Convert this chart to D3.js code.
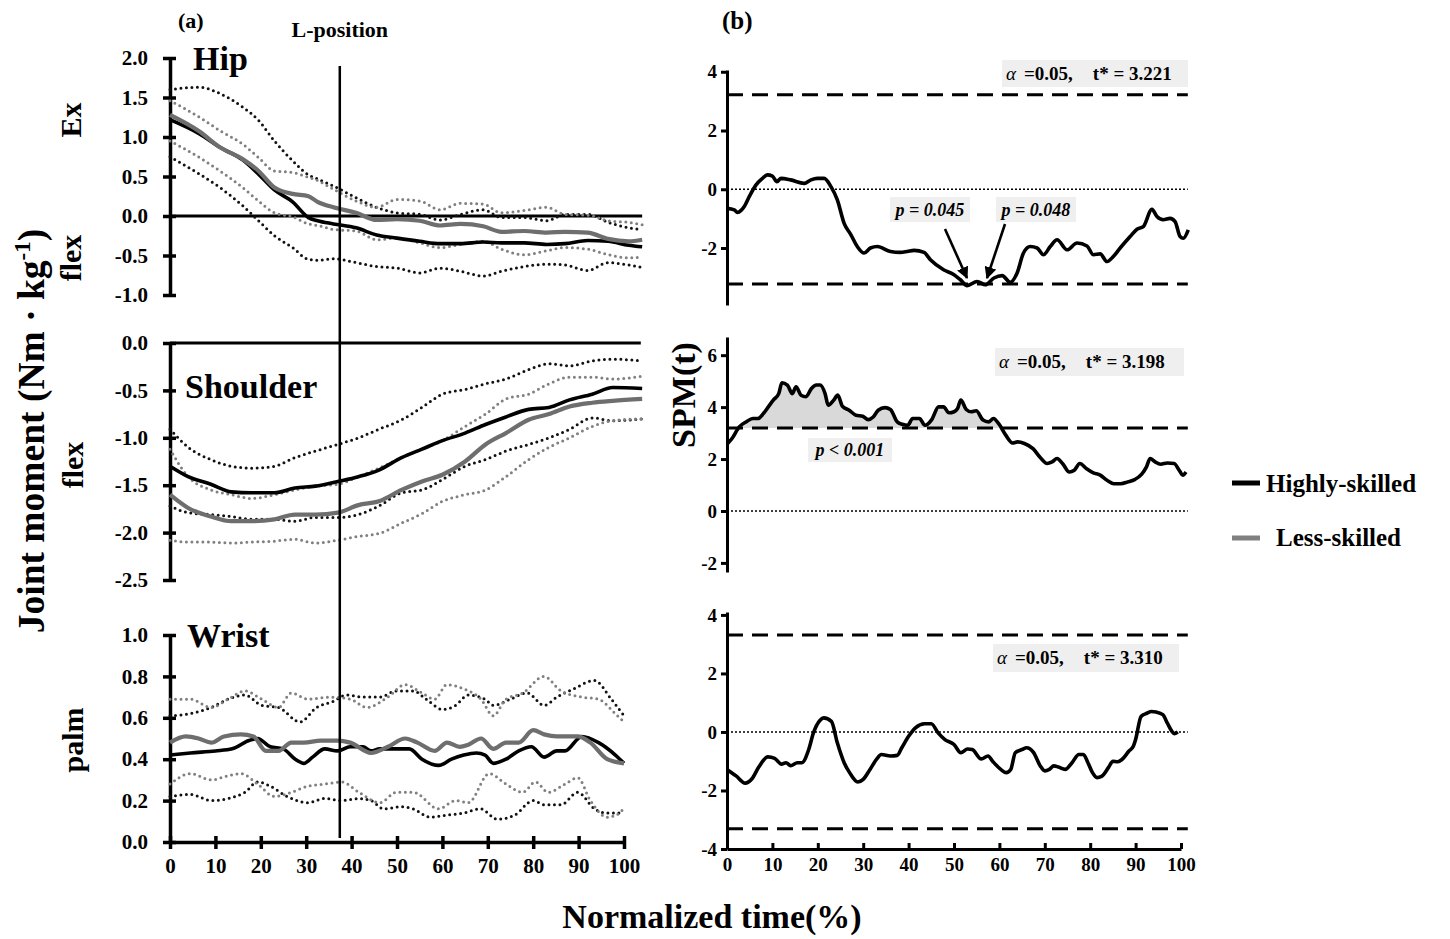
<!DOCTYPE html>
<html><head><meta charset="utf-8">
<script src="https://cdn.jsdelivr.net/npm/d3@7"></script>
<style>
body{margin:0;background:#fff;}
svg text{font-family:"Liberation Serif","Times New Roman",serif;font-weight:bold;fill:#000;}
</style></head><body>
<svg id="c" width="1450" height="939"></svg>
<script>
// ---------------- DATA ----------------
const timeTicks = [0,10,20,30,40,50,60,70,80,90,100];
const hipTicks = [-1,-0.5,0,0.5,1,1.5,2];
const shoulderTicks = [-2.5,-2,-1.5,-1,-0.5,0];
const wristTicks = [0,0.2,0.4,0.6,0.8,1];
const lPosition = 37.4;

const hipT = [0,6.5,11,16,19.5,23,27,30.5,32.5,36,41,45.5,50,55,59.5,64,69,73,78,83,87,92,96.5,101,104];
const hipHighMean  = [1.22,1.04,0.87,0.71,0.53,0.33,0.18,-0.02,-0.06,-0.1,-0.15,-0.24,-0.28,-0.32,-0.35,-0.35,-0.33,-0.34,-0.34,-0.36,-0.35,-0.31,-0.32,-0.37,-0.39];
const hipLessMean  = [1.28,1.07,0.87,0.72,0.57,0.36,0.28,0.25,0.18,0.11,0.04,-0.05,-0.04,-0.06,-0.12,-0.1,-0.13,-0.2,-0.19,-0.21,-0.2,-0.21,-0.29,-0.32,-0.3];
const hipHighUpper = [1.6,1.63,1.55,1.38,1.21,0.95,0.7,0.52,0.47,0.38,0.23,0.11,0.04,0.02,-0.05,0.02,0.08,-0.02,-0.02,-0.06,0.02,0.02,-0.08,-0.15,-0.17];
const hipHighLower = [0.75,0.53,0.36,0.13,-0.06,-0.25,-0.4,-0.55,-0.56,-0.54,-0.59,-0.64,-0.66,-0.72,-0.66,-0.7,-0.76,-0.7,-0.64,-0.61,-0.62,-0.69,-0.59,-0.62,-0.65];
const hipLessUpper = [1.46,1.25,1.08,0.91,0.74,0.57,0.55,0.49,0.45,0.34,0.19,0.11,0.21,0.19,0.08,0.16,0.15,0.04,0.07,0.11,0.02,0.01,-0.06,-0.08,-0.11];
const hipLessLower = [0.95,0.74,0.57,0.36,0.19,0.04,-0.01,-0.1,-0.12,-0.17,-0.19,-0.3,-0.28,-0.34,-0.4,-0.36,-0.32,-0.42,-0.49,-0.44,-0.4,-0.42,-0.49,-0.53,-0.52];

const shT = [0,4,9,13.5,18,23,27.5,32,37,41.5,46,51,55.5,60,65,69.5,74,79,83.5,88,93,97.5,104];
const shHighMean  = [-1.3,-1.41,-1.49,-1.57,-1.58,-1.58,-1.53,-1.51,-1.46,-1.41,-1.34,-1.21,-1.12,-1.03,-0.95,-0.86,-0.78,-0.7,-0.68,-0.6,-0.54,-0.47,-0.48];
const shLessMean  = [-1.6,-1.74,-1.83,-1.88,-1.88,-1.86,-1.81,-1.81,-1.79,-1.71,-1.67,-1.55,-1.46,-1.39,-1.25,-1.07,-0.95,-0.81,-0.75,-0.67,-0.63,-0.61,-0.59];
const shHighUpper = [-0.91,-1.1,-1.23,-1.3,-1.32,-1.3,-1.21,-1.14,-1.07,-1.0,-0.91,-0.81,-0.68,-0.54,-0.49,-0.43,-0.38,-0.28,-0.22,-0.24,-0.19,-0.17,-0.19];
const shHighLower = [-1.72,-1.79,-1.81,-1.83,-1.86,-1.86,-1.88,-1.84,-1.84,-1.81,-1.72,-1.58,-1.55,-1.44,-1.3,-1.23,-1.14,-1.07,-1.0,-0.91,-0.79,-0.82,-0.8];
const shLessUpper = [-1.12,-1.41,-1.55,-1.6,-1.64,-1.6,-1.55,-1.51,-1.49,-1.41,-1.32,-1.21,-1.12,-1.03,-0.88,-0.75,-0.59,-0.54,-0.43,-0.36,-0.36,-0.38,-0.35];
const shLessLower = [-2.08,-2.1,-2.1,-2.11,-2.1,-2.09,-2.07,-2.11,-2.08,-2.04,-2.01,-1.9,-1.8,-1.67,-1.6,-1.55,-1.41,-1.23,-1.1,-1.0,-0.88,-0.82,-0.8];

const wrHighMean = [[0,0.42],[4.5,0.43],[10,0.44],[13.7,0.45],[17.4,0.49],[19.3,0.5],[22.1,0.46],[24.9,0.45],[27.6,0.4],[29.5,0.38],[31.4,0.41],[34.1,0.45],[36.9,0.44],[39.7,0.46],[42.5,0.46],[44.3,0.44],[46.2,0.45],[49.9,0.45],[52.7,0.45],[55.5,0.4],[59.2,0.37],[62,0.4],[64.7,0.42],[67.5,0.43],[69.4,0.42],[71.2,0.38],[74,0.4],[76.8,0.44],[79.6,0.46],[82.4,0.41],[85.2,0.44],[87,0.44],[90.7,0.51],[94.4,0.48],[98.1,0.42],[100,0.38]];
const wrLessMean = [[0,0.48],[3.5,0.51],[6.3,0.5],[9.1,0.48],[11.9,0.51],[15.6,0.52],[18.4,0.51],[21.1,0.44],[23.9,0.44],[26.7,0.48],[29.5,0.48],[33.2,0.49],[36.9,0.49],[39.7,0.48],[44.3,0.43],[48,0.46],[51.8,0.5],[54.5,0.48],[58.3,0.44],[61,0.48],[63.8,0.46],[65.7,0.47],[68.5,0.5],[71.2,0.45],[74,0.48],[76.8,0.48],[80,0.54],[82.4,0.52],[85.2,0.51],[89.8,0.51],[92.6,0.48],[96.3,0.4],[100,0.38]];
const wrHighUpper = [[0,0.61],[4.5,0.62],[9.1,0.65],[12.8,0.69],[16.5,0.71],[20.2,0.66],[23.9,0.65],[28.6,0.58],[32.3,0.65],[36,0.68],[38.8,0.71],[42.5,0.7],[46.2,0.7],[49.9,0.73],[53.6,0.73],[56.4,0.69],[60.1,0.64],[62.9,0.66],[65.7,0.71],[69.4,0.69],[71.2,0.66],[75,0.69],[78.7,0.72],[82.4,0.66],[85.2,0.7],[88.9,0.74],[93.5,0.78],[97.2,0.69],[100,0.61]];
const wrLessUpper = [[0,0.69],[4.5,0.69],[9.1,0.65],[12.8,0.69],[16.5,0.73],[20.2,0.69],[23.9,0.65],[26.7,0.72],[30.4,0.69],[35.1,0.7],[39.7,0.69],[43.4,0.65],[48,0.7],[51.8,0.76],[55.5,0.72],[58.3,0.69],[61,0.76],[64.7,0.74],[68.5,0.69],[71.2,0.61],[74,0.69],[77.7,0.72],[82.4,0.8],[86.1,0.73],[90.7,0.7],[94.4,0.69],[98.1,0.62],[100,0.58]];
const wrHighLower = [[0,0.22],[4.5,0.23],[9.1,0.2],[12.8,0.21],[16.5,0.24],[19.3,0.29],[22.1,0.27],[25.8,0.22],[30.4,0.19],[34.1,0.21],[37.8,0.2],[41.6,0.21],[44.3,0.2],[47.1,0.16],[50.8,0.17],[53.6,0.16],[57.3,0.12],[61,0.13],[64.7,0.14],[68.4,0.16],[72.1,0.11],[75.9,0.13],[80,0.2],[82.4,0.18],[86.1,0.18],[89.8,0.24],[93.5,0.16],[96.3,0.14],[100,0.14]];
const wrLessLower = [[0,0.28],[4.5,0.33],[9.1,0.3],[12.8,0.32],[15.6,0.33],[19.3,0.28],[23,0.22],[26.7,0.24],[30.4,0.27],[34.1,0.28],[37.8,0.29],[41.6,0.24],[46.2,0.19],[49.9,0.24],[53.6,0.24],[59.2,0.16],[62.9,0.2],[65.7,0.19],[70.3,0.33],[74,0.28],[77.7,0.24],[80.5,0.29],[83.3,0.24],[87,0.28],[89.8,0.31],[92.6,0.2],[96.3,0.12],[99.1,0.14],[100,0.17]];

const spmHip = [[0,-0.65],[1.6,-0.7],[2.3,-0.79],[3.1,-0.72],[3.8,-0.59],[4.9,-0.25],[6.4,0.15],[7.8,0.37],[8.9,0.49],[10,0.45],[11,0.26],[11.9,0.37],[14,0.32],[17,0.2],[18.5,0.32],[19.9,0.37],[21.4,0.37],[22.9,0.09],[24.3,-0.36],[25.8,-1.16],[27.3,-1.55],[28.7,-1.95],[30.2,-2.17],[31.6,-2.0],[33.1,-1.95],[36,-2.12],[38.2,-2.15],[39.7,-2.12],[41.2,-2.08],[43.4,-2.15],[44.8,-2.4],[47.7,-2.74],[50,-2.91],[51.4,-3.08],[52.9,-3.28],[55.1,-3.14],[56.9,-3.25],[58.8,-3.02],[60.6,-2.94],[62.4,-3.17],[63.9,-2.85],[65.3,-2.17],[66.8,-1.95],[68.3,-2.0],[69.7,-2.23],[71.2,-1.95],[72.7,-1.72],[74.9,-2.06],[77.1,-1.83],[79.3,-1.93],[80.7,-2.23],[82.2,-2.2],[83.7,-2.46],[85.1,-2.29],[86.6,-2.0],[88.8,-1.61],[90.3,-1.36],[91.7,-1.27],[93.6,-0.68],[94.7,-0.93],[96.1,-1.04],[97.6,-0.99],[98.7,-1.1],[99.8,-1.61],[100.5,-1.67],[101.6,-1.38]];
const spmShoulder = [[0,2.57],[1.1,2.79],[2.7,3.24],[4.2,3.43],[5.7,3.56],[6.8,3.56],[8,3.75],[9.1,4.01],[10.2,4.27],[11.4,4.52],[12.1,4.94],[13.3,4.85],[14.4,4.52],[15.2,4.78],[16.3,4.46],[17.4,4.4],[18.6,4.72],[19.7,4.85],[20.5,4.85],[21.6,4.52],[22.3,4.07],[23.5,4.27],[24.4,4.46],[25.4,4.04],[26.9,3.88],[28.4,3.69],[29.9,3.65],[31.1,3.52],[32.2,3.62],[33.3,3.88],[34.8,3.98],[36,3.91],[37.5,3.43],[38.6,3.34],[39.8,3.3],[40.9,3.56],[42.4,3.56],[43.6,3.3],[45.1,3.52],[46.6,4.01],[47.7,4.01],[48.9,3.78],[50,3.82],[50.8,3.95],[51.5,4.27],[52.7,3.91],[53.8,3.82],[54.9,3.86],[56.4,3.5],[57.6,3.43],[58.7,3.56],[59.8,3.37],[61.4,2.92],[62.9,2.62],[64,2.66],[65.5,2.6],[67.4,2.4],[68.9,2.08],[70.5,1.83],[71.6,1.89],[72.7,2.02],[73.9,1.83],[75.4,1.5],[76.5,1.57],[77.7,1.83],[79.2,1.63],[80.7,1.47],[82.2,1.38],[83.7,1.18],[85.2,1.05],[86.7,1.05],[88.3,1.12],[89.8,1.21],[91.3,1.41],[92.4,1.7],[93.2,2.02],[94.3,1.89],[95.5,1.8],[97,1.85],[98.5,1.83],[99.6,1.57],[100.4,1.38],[101.1,1.5]];
const spmWrist = [[0,-1.28],[2,-1.5],[4,-1.75],[5.5,-1.6],[7,-1.2],[9,-0.85],[10.5,-0.9],[12,-1.1],[13,-1.05],[14,-1.15],[15.5,-1.05],[16.5,-1.05],[18,-0.6],[19,-0.05],[20.5,0.4],[21.3,0.48],[23,0.36],[24.3,-0.37],[25.8,-1.05],[27,-1.39],[28.8,-1.71],[30,-1.62],[31.5,-1.28],[33,-0.92],[34,-0.77],[36,-0.82],[37.5,-0.8],[38.5,-0.54],[40,-0.15],[41.5,0.14],[43.5,0.28],[45,0.28],[46.5,-0.03],[48,-0.26],[50,-0.43],[51.5,-0.71],[53,-0.58],[54,-0.6],[56,-0.92],[57.5,-0.82],[58.5,-1.0],[60.3,-1.28],[61.5,-1.39],[62.5,-1.28],[63.5,-0.71],[65,-0.6],[66,-0.54],[67.5,-0.7],[69,-1.16],[70,-1.33],[71,-1.28],[72,-1.16],[73,-1.2],[74.5,-1.28],[76,-1.05],[77.5,-0.77],[78.5,-0.77],[79.5,-1.05],[80.5,-1.39],[81.5,-1.56],[82.5,-1.52],[84,-1.22],[85,-1.0],[86,-1.02],[87,-0.94],[88.5,-0.66],[89.5,-0.49],[90,-0.26],[91.2,0.53],[92.5,0.64],[93.5,0.7],[94.5,0.68],[96,0.59],[97,0.3],[98,0.02],[98.5,-0.06],[99.3,0]];

const thresholds = [3.221, 3.198, 3.310];
const thresholdLabels = ["3.221","3.198","3.310"];
const spmTicksHip = [-2,0,2,4];
const spmTicksShoulder = [-2,0,2,4,6];
const spmTicksWrist = [-4,-2,0,2,4];
const clusterEnd = 61;
const legendNames = ["Highly-skilled","Less-skilled"];

// ---------------- DRAW ----------------
const svg = d3.select("#c");
const BLACK = "#000", GRAYM = "#6e6e6e", GRAYD = "#808080";

const xL = d3.scaleLinear().domain([0,100]).range([170,624]);
const xR = d3.scaleLinear().domain([0,100]).range([727,1181]);
const yHip = d3.scaleLinear().domain([-1,2]).range([295,58]);
const ySh = d3.scaleLinear().domain([-2.5,0]).range([580,343]);
const yWr = d3.scaleLinear().domain([0,1]).range([842,635]);

const zip = (t, v) => t.map((d,i)=>[d, v[i]]);

function styleAxis(g, fs){
  g.selectAll(".domain").attr("stroke","#000").attr("stroke-width",3.5);
  g.selectAll(".tick line").attr("stroke","#000").attr("stroke-width",3.5);
  g.selectAll(".tick text").style("font-size",fs+"px").attr("fill","#000");
}

function leftAxis(y, ticks){
  const g = svg.append("g").attr("transform","translate(170,0)");
  g.call(d3.axisLeft(y).tickValues(ticks).tickFormat(d=>d.toFixed(1)).tickSize(7).tickSizeOuter(0).tickPadding(15));
  const g2 = g.append("g").call(d3.axisRight(y).tickValues(ticks).tickFormat("").tickSize(6).tickSizeOuter(0));
  g2.select(".domain").remove();
  styleAxis(g, 21);
}

function drawSeries(x, y, data, kind){
  const line = d3.line().x(d=>x(d[0])).y(d=>y(d[1])).curve(d3.curveMonotoneX);
  const p = svg.append("path").attr("d", line(data)).attr("fill","none");
  if (kind==="hm") p.attr("stroke",BLACK).attr("stroke-width",3.6).attr("stroke-linejoin","round");
  if (kind==="lm") p.attr("stroke",GRAYM).attr("stroke-width",4.2).attr("stroke-linejoin","round");
  if (kind==="hd") p.attr("stroke","#111").attr("stroke-width",3).attr("stroke-dasharray","0,5.5").attr("stroke-linecap","round");
  if (kind==="ld") p.attr("stroke",GRAYD).attr("stroke-width",3).attr("stroke-dasharray","0,5.5").attr("stroke-linecap","round");
}

// ---- Hip ----
leftAxis(yHip, hipTicks);
svg.append("line").attr("x1",xL(0)).attr("x2",xL(104)).attr("y1",yHip(0)).attr("y2",yHip(0)).attr("stroke","#000").attr("stroke-width",3);
drawSeries(xL,yHip,zip(hipT,hipHighUpper),"hd");
drawSeries(xL,yHip,zip(hipT,hipHighLower),"hd");
drawSeries(xL,yHip,zip(hipT,hipLessUpper),"ld");
drawSeries(xL,yHip,zip(hipT,hipLessLower),"ld");
drawSeries(xL,yHip,zip(hipT,hipHighMean),"hm");
drawSeries(xL,yHip,zip(hipT,hipLessMean),"lm");

// ---- Shoulder ----
leftAxis(ySh, shoulderTicks);
svg.append("line").attr("x1",xL(0)).attr("x2",xL(103.7)).attr("y1",ySh(0)).attr("y2",ySh(0)).attr("stroke","#000").attr("stroke-width",3);
drawSeries(xL,ySh,zip(shT,shHighUpper),"hd");
drawSeries(xL,ySh,zip(shT,shHighLower),"hd");
drawSeries(xL,ySh,zip(shT,shLessUpper),"ld");
drawSeries(xL,ySh,zip(shT,shLessLower),"ld");
drawSeries(xL,ySh,zip(shT,shHighMean),"hm");
drawSeries(xL,ySh,zip(shT,shLessMean),"lm");

// ---- Wrist ----
leftAxis(yWr, wristTicks);
{
  const g = svg.append("g").attr("transform","translate(0,842)");
  g.call(d3.axisBottom(xL).tickValues(timeTicks).tickFormat(d=>String(d)).tickSize(7).tickSizeOuter(0).tickPadding(9));
  const g2 = g.append("g").call(d3.axisTop(xL).tickValues(timeTicks).tickFormat("").tickSize(6).tickSizeOuter(0));
  g2.select(".domain").remove();
  styleAxis(g, 21);
}
drawSeries(xL,yWr,wrHighUpper,"hd");
drawSeries(xL,yWr,wrHighLower,"hd");
drawSeries(xL,yWr,wrLessUpper,"ld");
drawSeries(xL,yWr,wrLessLower,"ld");
drawSeries(xL,yWr,wrHighMean,"hm");
drawSeries(xL,yWr,wrLessMean,"lm");

// L-position line
svg.append("line").attr("x1",xL(lPosition)).attr("x2",xL(lPosition)).attr("y1",66).attr("y2",838).attr("stroke","#000").attr("stroke-width",2.5);

// Left texts
const txt = (x,y,s,fs,anchor) => svg.append("text").attr("x",x).attr("y",y).text(s).style("font-size",fs+"px").attr("text-anchor",anchor||"start");
txt(178,28,"(a)",22);
txt(xL(lPosition),37,"L-position",22,"middle");
txt(193,70,"Hip",34);
txt(185,398,"Shoulder",34);
txt(187,647,"Wrist",34);
const rot = (x,y,s,fs) => svg.append("text").attr("transform",`translate(${x},${y}) rotate(-90)`).attr("text-anchor","middle").style("font-size",fs+"px").text(s);
rot(81,120,"Ex",30);
rot(81,258,"flex",30);
rot(83,465,"flex",30);
rot(83,740,"palm",30);
{
  const t = svg.append("text").attr("transform","translate(44,431) rotate(-90)").attr("text-anchor","middle").style("font-size","37.5px");
  t.append("tspan").text("Joint moment (Nm · kg");
  t.append("tspan").attr("dy",-14).style("font-size","23px").text("-1");
  t.append("tspan").attr("dy",14).text(")");
}
txt(712,928,"Normalized time(%)",34,"middle");

// ---- Right SPM panels ----
const panels = [
  {y: d3.scaleLinear().domain([-3.94,4.06]).range([305,70]), ticks: spmTicksHip, data: spmHip, thr: thresholds[0], lab: thresholdLabels[0], box:[1002,60,186,27]},
  {y: d3.scaleLinear().domain([-2.35,6.7]).range([572,337]), ticks: spmTicksShoulder, data: spmShoulder, thr: thresholds[1], lab: thresholdLabels[1], box:[995,348,189,28]},
  {y: d3.scaleLinear().domain([-4,4.1]).range([849,612]), ticks: spmTicksWrist, data: spmWrist, thr: thresholds[2], lab: thresholdLabels[2], box:[993,644,186,28]}
];

panels.forEach((P,i)=>{
  const y = P.y;
  if (i===1){
    const area = d3.area().x(d=>xR(d[0])).y0(y(P.thr)).y1(d=>y(Math.max(d[1],P.thr))).curve(d3.curveMonotoneX);
    svg.append("path").attr("d", area(P.data.filter(d=>d[0]<=clusterEnd))).attr("fill","#d9d9d9");
  }
  const g = svg.append("g").attr("transform",`translate(${xR(0)},0)`);
  g.call(d3.axisLeft(y).tickValues(P.ticks).tickFormat(d=>String(d)).tickSize(6).tickSizeOuter(0).tickPadding(4));
  g.selectAll(".domain").attr("stroke","#000").attr("stroke-width",3);
  g.selectAll(".tick line").attr("stroke","#000").attr("stroke-width",3);
  g.selectAll(".tick text").style("font-size","19px");
  svg.append("line").attr("x1",xR(0)).attr("x2",xR(101.5)).attr("y1",y(0)).attr("y2",y(0)).attr("stroke","#000").attr("stroke-width",1.6).attr("stroke-dasharray","2,2");
  const thrs = i===1 ? [P.thr] : [P.thr, -P.thr];
  thrs.forEach(v=>{
    svg.append("line").attr("x1",xR(0)).attr("x2",xR(101.5)).attr("y1",y(v)).attr("y2",y(v)).attr("stroke","#000").attr("stroke-width",3).attr("stroke-dasharray","16,9");
  });
  const line = d3.line().x(d=>xR(d[0])).y(d=>y(d[1])).curve(d3.curveMonotoneX);
  svg.append("path").attr("d",line(P.data)).attr("fill","none").attr("stroke","#000").attr("stroke-width",3.6).attr("stroke-linejoin","round");
  const [bx,by,bw,bh] = P.box;
  svg.append("rect").attr("x",bx).attr("y",by).attr("width",bw).attr("height",bh).attr("fill","#efefef");
  const t = svg.append("text").attr("x",bx+4).attr("y",by+20).style("font-size","19px");
  t.append("tspan").style("font-style","italic").style("font-weight","normal").text("α");
  t.append("tspan").attr("dx",8).text("=0.05,");
  t.append("tspan").attr("dx",20).text("t* = " + P.lab);
});

// bottom x axis (right)
{
  const g = svg.append("g").attr("transform","translate(0,849)");
  g.call(d3.axisBottom(xR).tickValues(timeTicks).tickFormat(d=>String(d)).tickSize(-6).tickSizeOuter(0).tickPadding(9));
  g.selectAll(".domain").attr("stroke","#000").attr("stroke-width",3);
  g.selectAll(".tick line").attr("stroke","#000").attr("stroke-width",3);
  g.selectAll(".tick text").style("font-size","19px");
}

// p-value boxes and arrows
const defs = svg.append("defs");
defs.append("marker").attr("id","ah").attr("viewBox","0 0 10 10").attr("refX",9).attr("refY",5)
  .attr("markerWidth",12).attr("markerHeight",12).attr("markerUnits","userSpaceOnUse").attr("orient","auto")
  .append("path").attr("d","M0,0 L10,5 L0,10 z").attr("fill","#000");
function pbox(x,y,w,h,s){
  svg.append("rect").attr("x",x).attr("y",y).attr("width",w).attr("height",h).attr("fill","#efefef");
  svg.append("text").attr("x",x+w/2).attr("y",y+h-6).attr("text-anchor","middle").style("font-size","18px").style("font-style","italic").text(s);
}
pbox(890,197,80,25,"p = 0.045");
pbox(996,197,80,25,"p = 0.048");
pbox(808,438,84,24,"p < 0.001");
svg.append("line").attr("x1",945).attr("y1",229).attr("x2",967).attr("y2",278).attr("stroke","#000").attr("stroke-width",2.6).attr("marker-end","url(#ah)");
svg.append("line").attr("x1",1005).attr("y1",224).attr("x2",987).attr("y2",278).attr("stroke","#000").attr("stroke-width",2.6).attr("marker-end","url(#ah)");

txt(722,29,"(b)",25);
rot(695,395,"SPM(t)",34);

// legend
svg.append("line").attr("x1",1232).attr("x2",1260).attr("y1",483).attr("y2",483).attr("stroke",BLACK).attr("stroke-width",5);
svg.append("line").attr("x1",1232).attr("x2",1260).attr("y1",538).attr("y2",538).attr("stroke",GRAYD).attr("stroke-width",5);
txt(1266,492,legendNames[0],25);
txt(1276,546,legendNames[1],25);
</script></body></html>
